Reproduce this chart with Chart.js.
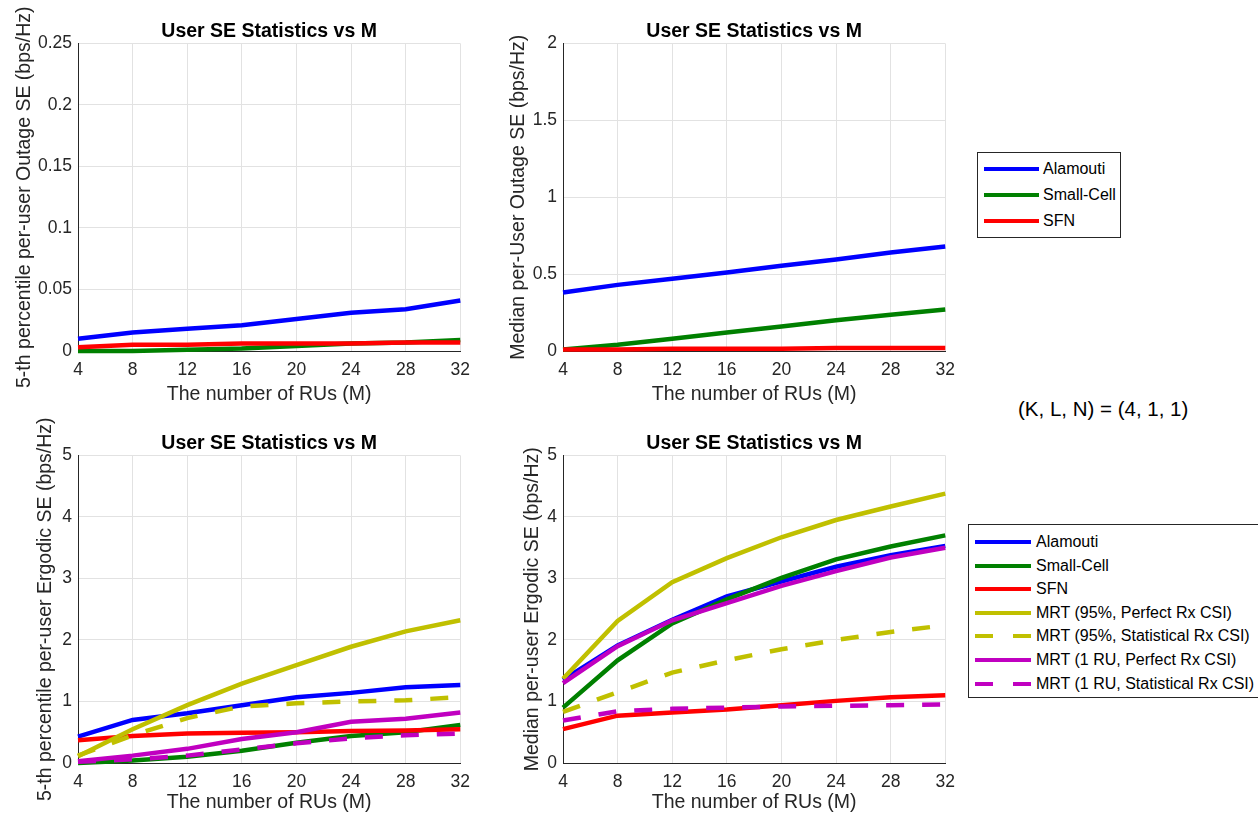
<!DOCTYPE html>
<html>
<head>
<meta charset="utf-8">
<script src="https://cdn.jsdelivr.net/npm/chart.js@4"></script>
<style>
  body { margin: 0; width: 1258px; height: 818px; background: #fff; overflow: hidden; position: relative;
         font-family: "Liberation Sans", Arial, sans-serif; }
  .box { position: absolute; }
  .legend { position: absolute; background: #fff; border: 1px solid #262626; box-sizing: border-box; }
  .legend .row { position: absolute; left: 0; height: 20px; font-size: 16px; color: #000; white-space: nowrap; }
  .legend svg { position: absolute; top: 0; }
  .legend span { position: absolute; top: 1px; line-height: 18px; }
  #kln { position: absolute; left: 1018px; top: 397px; font-size: 20.5px; color: #000; white-space: nowrap; }
</style>
</head>
<body>
<div class="box" style="left:0;top:0;width:479px;height:410px"><canvas id="c1"></canvas></div>
<div class="box" style="left:480px;top:0;width:484px;height:410px"><canvas id="c2"></canvas></div>
<div class="box" style="left:0;top:410px;width:479px;height:408px"><canvas id="c3"></canvas></div>
<div class="box" style="left:480px;top:410px;width:484px;height:408px"><canvas id="c4"></canvas></div>
<div class="legend" id="leg1" style="left:977px;top:152px;width:144px;height:86px"></div>
<div class="legend" id="leg2" style="left:968px;top:524px;width:300px;height:174px"></div>
<div id="kln">(K, L, N) = (4, 1, 1)</div>
<script>
// number of RUs
const mValues = [4, 8, 12, 16, 20, 24, 28, 32];

// 5-th percentile per-user outage SE
const outage5Alamouti  = [0.010, 0.015, 0.018, 0.021, 0.026, 0.031, 0.034, 0.041];
const outage5SmallCell = [0.000, 0.000, 0.001, 0.002, 0.004, 0.006, 0.007, 0.009];
const outage5SFN       = [0.003, 0.005, 0.005, 0.006, 0.006, 0.006, 0.007, 0.007];

// median per-user outage SE
const outageMedAlamouti  = [0.38, 0.43, 0.47, 0.51, 0.555, 0.595, 0.64, 0.68];
const outageMedSmallCell = [0.01, 0.04, 0.08, 0.12, 0.16, 0.20, 0.235, 0.27];
const outageMedSFN       = [0.01, 0.01, 0.015, 0.015, 0.015, 0.02, 0.02, 0.02];

// 5-th percentile per-user ergodic SE
const ergodic5Alamouti  = [0.43, 0.70, 0.81, 0.94, 1.07, 1.14, 1.23, 1.27];
const ergodic5SmallCell = [0.00, 0.04, 0.10, 0.20, 0.33, 0.44, 0.50, 0.62];
const ergodic5SFN       = [0.37, 0.44, 0.48, 0.49, 0.50, 0.52, 0.53, 0.55];
const ergodic5Mrt95     = [0.11, 0.55, 0.94, 1.29, 1.59, 1.89, 2.14, 2.32];
const ergodic5Mrt95Stat = [0.12, 0.45, 0.73, 0.92, 0.97, 1.00, 1.02, 1.07];
const ergodic5Mrt1RU    = [0.03, 0.12, 0.23, 0.39, 0.50, 0.67, 0.72, 0.82];
const ergodic5Mrt1RUStat= [0.02, 0.06, 0.12, 0.22, 0.32, 0.40, 0.45, 0.48];

// median per-user ergodic SE
const ergodicMedAlamouti  = [1.35, 1.91, 2.33, 2.71, 2.95, 3.19, 3.38, 3.53];
const ergodicMedSmallCell = [0.90, 1.67, 2.27, 2.66, 3.01, 3.31, 3.52, 3.70];
const ergodicMedSFN       = [0.55, 0.77, 0.82, 0.87, 0.94, 1.01, 1.07, 1.10];
const ergodicMedMrt95     = [1.37, 2.31, 2.94, 3.33, 3.67, 3.95, 4.17, 4.38];
const ergodicMedMrt95Stat = [0.83, 1.15, 1.47, 1.67, 1.85, 2.00, 2.13, 2.24];
const ergodicMedMrt1RU    = [1.30, 1.90, 2.32, 2.60, 2.88, 3.12, 3.34, 3.50];
const ergodicMedMrt1RUStat= [0.69, 0.84, 0.88, 0.90, 0.92, 0.93, 0.94, 0.95];

const seriesNames = ['Alamouti', 'Small-Cell', 'SFN',
  'MRT (95%, Perfect Rx CSI)', 'MRT (95%, Statistical Rx CSI)',
  'MRT (1 RU, Perfect Rx CSI)', 'MRT (1 RU, Statistical Rx CSI)'];

const colors = ['#0000ff', '#008000', '#ff0000', '#c0c000', '#c0c000', '#c000c0', '#c000c0'];
const dashed = [false, false, false, false, true, false, true];

const FONT = '"Liberation Sans", Arial, sans-serif';
const INK = '#262626';

function makeDatasets(arrays) {
  return arrays.map((ys, i) => ({
    label: seriesNames[i],
    data: ys.map((y, k) => ({x: mValues[k], y: y})),
    borderColor: colors[i],
    backgroundColor: colors[i],
    borderWidth: 4.5,
    borderDash: dashed[i] ? [18, 18] : [],
    pointRadius: 0,
    tension: 0,
    clip: 8,
    order: -i
  }));
}

function makeChart(id, arrays, yMax, yStep, yLabel, yWidth, yTitlePad, xHeight, titleTop) {
  return new Chart(document.getElementById(id), {
    type: 'line',
    data: { datasets: makeDatasets(arrays) },
    options: {
      responsive: true,
      maintainAspectRatio: false,
      animation: false,
      events: [],
      layout: { padding: { left: 0, right: 12, top: 0, bottom: 0 } },
      plugins: {
        legend: { display: false },
        tooltip: { enabled: false },
        title: {
          display: true,
          fullSize: false,
          text: 'User SE Statistics vs M',
          color: '#000',
          font: { family: FONT, size: 19.5, weight: 'bold', lineHeight: 1.1 },
          padding: { top: titleTop, bottom: 1.5 }
        }
      },
      scales: {
        x: {
          type: 'linear', min: 4, max: 32,
          afterFit: s => { s.height = xHeight; },
          ticks: { stepSize: 4, color: INK, font: { family: FONT, size: 17.5 }, padding: 9, maxRotation: 0 },
          grid: { color: '#e2e2e2', drawTicks: false },
          border: { color: INK, width: 1 },
          title: { display: true, text: 'The number of RUs (M)', color: INK,
                   font: { family: FONT, size: 19.5 }, padding: { top: 0, bottom: 4 } }
        },
        y: {
          min: 0, max: yMax,
          afterFit: s => { s.width = yWidth; },
          ticks: { stepSize: yStep, color: INK, font: { family: FONT, size: 17.5 }, padding: 6,
                   callback: v => String(Number(v.toFixed(2))) },
          grid: { color: '#e2e2e2', drawTicks: false },
          border: { color: INK, width: 1 },
          title: { display: true, text: yLabel, color: INK,
                   font: { family: FONT, size: 19.5 }, padding: { top: yTitlePad, bottom: 0 } }
        }
      }
    }
  });
}

const ch1 = makeChart('c1', [outage5Alamouti, outage5SmallCell, outage5SFN], 0.25, 0.05,
  '5-th percentile per-user Outage SE (bps/Hz)', 78, 13, 59, 20.5);
const ch2 = makeChart('c2', [outageMedAlamouti, outageMedSmallCell, outageMedSFN], 2, 0.5,
  'Median per-User Outage SE (bps/Hz)', 83, 26.5, 59, 20.5);
const ch3 = makeChart('c3', [ergodic5Alamouti, ergodic5SmallCell, ergodic5SFN, ergodic5Mrt95,
  ergodic5Mrt95Stat, ergodic5Mrt1RU, ergodic5Mrt1RUStat], 5, 1,
  '5-th percentile per-user Ergodic SE (bps/Hz)', 78, 34, 55, 22.5);
const ch4 = makeChart('c4', [ergodicMedAlamouti, ergodicMedSmallCell, ergodicMedSFN, ergodicMedMrt95,
  ergodicMedMrt95Stat, ergodicMedMrt1RU, ergodicMedMrt1RUStat], 5, 1,
  'Median per-user Ergodic SE (bps/Hz)', 83, 41, 55, 22.5);

function buildLegend(el, chart, firstRow, rowStep, lineW, textX) {
  chart.data.datasets.forEach((ds, i) => {
    const row = document.createElement('div');
    row.className = 'row';
    row.style.top = (firstRow + i * rowStep - 10) + 'px';
    const dash = ds.borderDash.length ? 'stroke-dasharray="18 20"' : '';
    row.innerHTML = `<svg width="${lineW + 6}" height="20" style="left:6px">
      <line x1="0" y1="10" x2="${lineW}" y2="10" stroke="${ds.borderColor}" stroke-width="4" ${dash}/></svg>
      <span style="left:${textX}px">${ds.label}</span>`;
    el.appendChild(row);
  });
}
buildLegend(document.getElementById('leg1'), ch2, 16, 26, 55, 65);
buildLegend(document.getElementById('leg2'), ch4, 17, 23.6, 56, 67);
</script>
</body>
</html>
